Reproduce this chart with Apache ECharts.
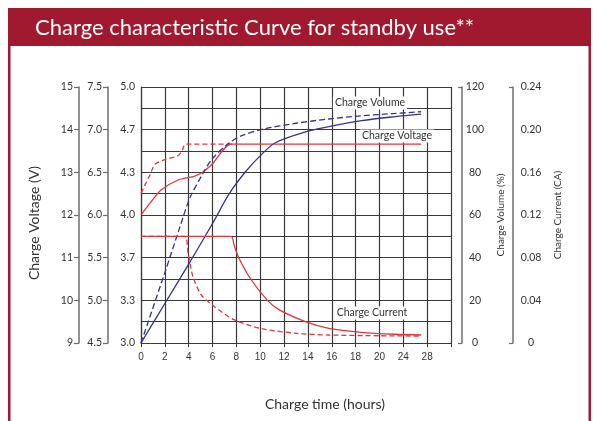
<!DOCTYPE html>
<html>
<head>
<meta charset="utf-8">
<script src="https://cdn.jsdelivr.net/npm/echarts@6/dist/echarts.min.js"></script>
<style>
html,body{margin:0;padding:0;background:#fff;}
#chart{width:593px;height:421px;}
</style>
</head>
<body>
<div id="chart"></div>
<script>
// ---- tick labels ----
const xTickLabels = ['0','2','4','6','8','10','12','14','16','18','20','24','28'];
const cellTickLabels = ['3.0','3.3','3.7','4.0','4.3','4.7','5.0'];

// ---- Charge voltage (12 V battery scale), time in hours ----
const voltSolidHours = [0, 0.9, 1.7, 3.1, 4.4, 5.1, 5.9, 7.6, 27];
const voltSolidValues = [12.0, 12.33, 12.59, 12.82, 12.9, 12.99, 13.17, 13.66, 13.66];
const voltDashHours = [0, 0.33, 0.75, 1.17, 2.0, 3.1, 3.47, 3.72, 7.6];
const voltDashValues = [12.51, 12.7, 12.94, 13.19, 13.3, 13.39, 13.52, 13.66, 13.66];

// ---- Charge volume (%) ----
const volSolidHours = [0, 2, 4, 6, 7.4, 8.8, 10.2, 11.3, 13.8, 15.75, 18.5, 22.6, 27];
const volSolidValues = [0, 18.5, 37, 56, 70, 80.5, 88.9, 94, 99, 101.4, 104.2, 106.1, 107.3];
const volDashHours = [0, 2, 3.3, 4.1, 5.2, 6.0, 7.4, 8.5, 10.2, 13, 15.75, 18.5, 22.6, 27];
const volDashValues = [0, 33, 55, 68, 79.5, 86.5, 93.8, 97.3, 100.2, 103, 105, 106.5, 107.6, 108.4];

// ---- Charge current (CA) ----
const curSolidHours = [0, 7.55, 7.8, 8.2, 9.2, 10.6, 11.6, 13.9, 15.75, 18.5, 22.6, 27];
const curSolidValues = [0.1, 0.1, 0.092, 0.08, 0.06, 0.04, 0.031, 0.0195, 0.0138, 0.010, 0.0082, 0.0075];
const curDashHours = [0, 3.65, 3.95, 4.36, 5.06, 6.17, 7.83, 10.1, 13, 15.75, 20, 27];
const curDashValues = [0.1, 0.1, 0.084, 0.062, 0.045, 0.034, 0.0216, 0.0135, 0.0091, 0.0075, 0.0068, 0.0065];

// the time axis is 2 h per division up to 20 h, then 4 h per division
function toIdx(h){ return h <= 20 ? h / 2 : 10 + (h - 20) / 4; }
function pairs(hs, vs){ return hs.map((h,i)=>[toIdx(h), vs[i]]); }

const RED = '#e3353b', BLUE = '#34348f';
const AX = '#6e6e6e', GRID = '#3a3a3a', TXT = '#333';

const chart = echarts.init(document.getElementById('chart'), null, {renderer:'canvas'});

const option = {
  animation:false,
  backgroundColor:'#fff',
  grid:{left:141, right:142, top:87, bottom:78},
  xAxis:{
    type:'value', min:0, max:13, interval:1,
    axisLine:{show:true, onZero:false, lineStyle:{color:GRID, width:1.2}},
    axisTick:{show:true, length:4, lineStyle:{color:GRID}},
    axisLabel:{margin:9, fontFamily:'Liberation Sans', fontSize:10, color:TXT,
      formatter:v=> (xTickLabels[v] !== undefined ? xTickLabels[v] : '')},
    splitLine:{show:true, lineStyle:{color:GRID, width:1.2}},
    name:'Charge time (hours)', nameLocation:'middle', nameGap:54,
    nameTextStyle:{fontFamily:'Lato', fontSize:14, color:TXT, padding:[0,0,0,58]}
  },
  yAxis:[
    { // 12 V
      type:'value', position:'left', offset:62, min:9, max:15, interval:1,
      axisLine:{show:true, onZero:false, lineStyle:{color:AX, width:1.5}},
      axisTick:{show:true, length:5, lineStyle:{color:AX, width:1.2}},
      axisLabel:{margin:6, fontFamily:'Lato', fontSize:10.5, color:TXT},
      splitLine:{show:false},
      name:'Charge Voltage (V)', nameLocation:'middle', nameGap:38, nameRotate:90,
      nameTextStyle:{fontFamily:'Lato', fontSize:14, color:TXT, padding:[0,16,0,0]}
    },
    { // 6 V
      type:'value', position:'left', offset:33, min:4.5, max:7.5, interval:0.5,
      axisLine:{show:true, onZero:false, lineStyle:{color:AX, width:1.5}},
      axisTick:{show:true, length:5, lineStyle:{color:AX, width:1.2}},
      axisLabel:{margin:6, fontFamily:'Lato', fontSize:10.5, color:TXT, formatter:v=>v.toFixed(1)},
      splitLine:{show:false}
    },
    { // per cell (carries the horizontal grid, 2 rows per label)
      type:'value', position:'left', offset:0, min:0, max:6, interval:0.5,
      axisLine:{show:true, onZero:false, lineStyle:{color:GRID, width:1.2}},
      axisTick:{show:false},
      axisLabel:{margin:6, fontFamily:'Lato', fontSize:10.5, color:TXT,
        formatter:v=> (Number.isInteger(v) ? cellTickLabels[v] : '')},
      splitLine:{show:true, lineStyle:{color:GRID, width:1.2}}
    },
    { // volume %
      type:'value', position:'right', offset:11, min:0, max:120, interval:20,
      axisLine:{show:true, onZero:false, lineStyle:{color:AX, width:1.5}},
      axisTick:{show:true, inside:true, length:4, customValues:[0,120], lineStyle:{color:AX, width:1.2}},
      axisLabel:{margin:13, align:'center', fontFamily:'Lato', fontSize:10.5, color:TXT},
      splitLine:{show:false},
      name:'Charge Volume (%)', nameLocation:'middle', nameGap:34, nameRotate:90,
      nameTextStyle:{fontFamily:'Lato', fontSize:10, color:TXT}
    },
    { // current CA
      type:'value', position:'right', offset:62, min:0, max:0.24, interval:0.04,
      axisLine:{show:true, onZero:false, lineStyle:{color:AX, width:1.5}},
      axisTick:{show:true, inside:true, length:4, customValues:[0,0.24], lineStyle:{color:AX, width:1.2}},
      axisLabel:{margin:18, align:'center', fontFamily:'Lato', fontSize:10.5, color:TXT,
        formatter:v=> (v === 0 ? '0' : v.toFixed(2))},
      splitLine:{show:false},
      name:'Charge Current (CA)', nameLocation:'middle', nameGap:40, nameRotate:90,
      nameTextStyle:{fontFamily:'Lato', fontSize:10, color:TXT}
    }
  ],
  series:[
    {type:'line', yAxisIndex:0, data:pairs(voltSolidHours, voltSolidValues), smooth:0.25, symbol:'none',
     lineStyle:{color:RED, width:1.3}},
    {type:'line', yAxisIndex:0, data:pairs(voltDashHours, voltDashValues), smooth:0.25, symbol:'none',
     lineStyle:{color:RED, width:1.3, type:[5,3]}},
    {type:'line', yAxisIndex:3, data:pairs(volSolidHours, volSolidValues), smooth:0.3, symbol:'none',
     lineStyle:{color:BLUE, width:1.3}},
    {type:'line', yAxisIndex:3, data:pairs(volDashHours, volDashValues), smooth:0.3, symbol:'none',
     lineStyle:{color:BLUE, width:1.3, type:[6,3]}},
    {type:'line', yAxisIndex:4, data:pairs(curSolidHours, curSolidValues), smooth:0.25, symbol:'none',
     lineStyle:{color:RED, width:1.3}},
    {type:'line', yAxisIndex:4, data:pairs(curDashHours, curDashValues), smooth:0.25, symbol:'none',
     lineStyle:{color:RED, width:1.3, type:[5,3]}}
  ],
  graphic:[
    {type:'rect', shape:{x:8, y:8, width:583, height:38}, style:{fill:'#a0192f'}, silent:true},
    {type:'rect', shape:{x:8, y:46, width:2.5, height:375}, style:{fill:'#a0192f'}, silent:true},
    {type:'rect', shape:{x:588.5, y:46, width:2.5, height:375}, style:{fill:'#a0192f'}, silent:true},
    {type:'text', x:35, y:28, style:{text:'Charge characteristic Curve for standby use**', fill:'#fff',
      font:'22px Lato', verticalAlign:'middle', align:'left'}},
    {type:'text', x:370, y:103, z:10, style:{text:'Charge Volume', align:'center', verticalAlign:'middle',
      backgroundColor:'#fff', padding:[1,2], font:'10.5px Lato', fill:TXT}},
    {type:'text', x:397, y:136, z:10, style:{text:'Charge Voltage', align:'center', verticalAlign:'middle',
      backgroundColor:'#fff', padding:[1,2], font:'10.5px Lato', fill:TXT}},
    {type:'text', x:372, y:313, z:10, style:{text:'Charge Current', align:'center', verticalAlign:'middle',
      backgroundColor:'#fff', padding:[1,2], font:'10.5px Lato', fill:TXT}}
  ]
};
chart.setOption(option);
</script>
</body>
</html>
